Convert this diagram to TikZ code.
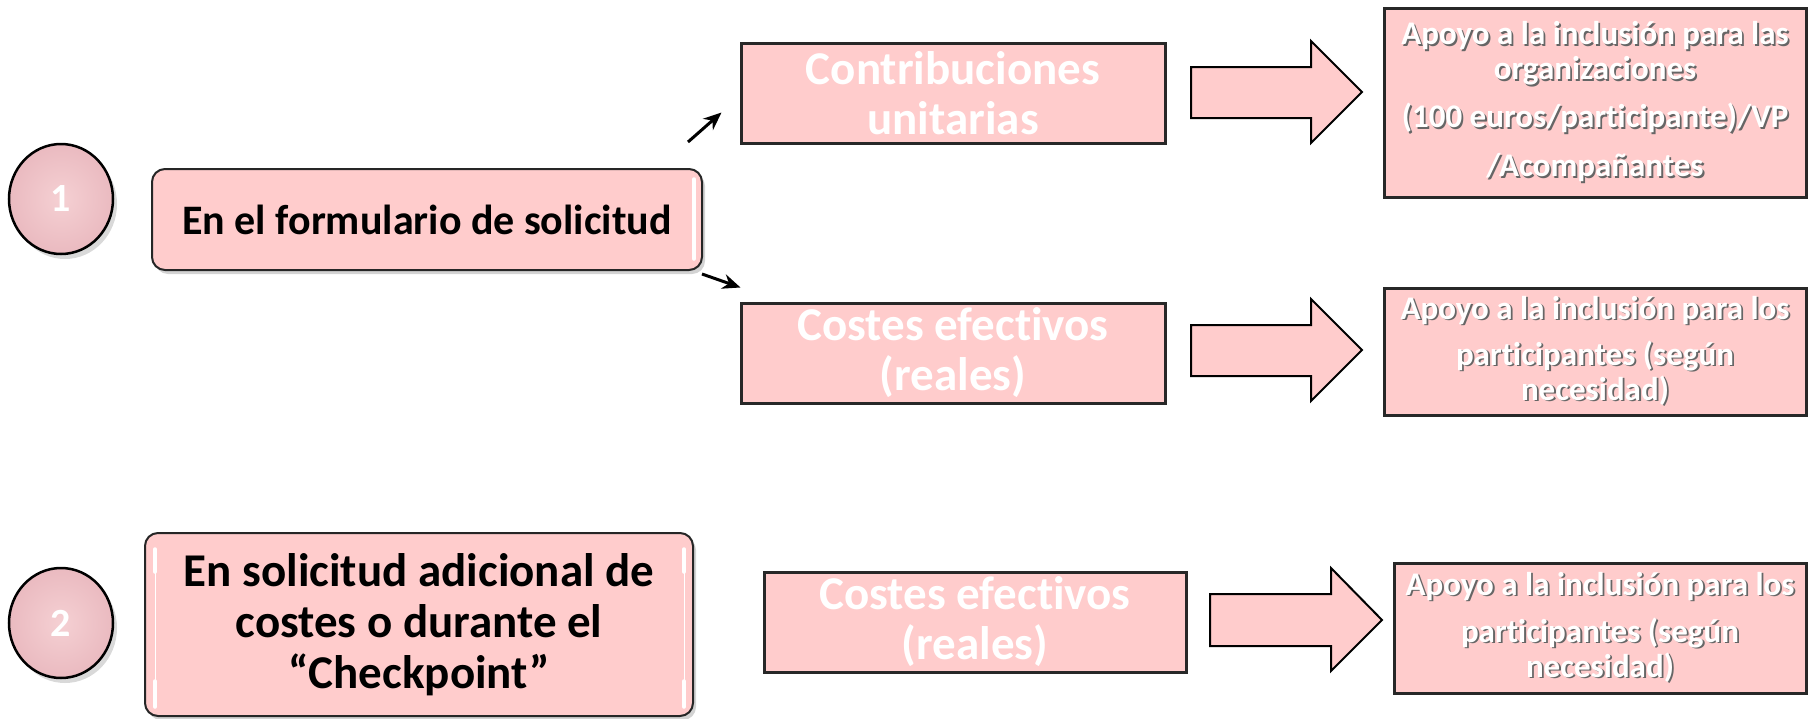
\documentclass[tikz,border=0pt]{standalone}
\usepackage{fontspec}
\setmainfont{Carlito}[Ligatures=NoCommon]
\usetikzlibrary{arrows.meta, shapes.geometric, shadows}
\definecolor{boxpink}{RGB}{255,204,204}
\definecolor{ballin}{RGB}{245,208,211}
\definecolor{ballout}{RGB}{234,186,192}
\definecolor{darkline}{RGB}{40,40,40}
\newcommand{\shd}[1]{\rlap{\kern1.8pt\raisebox{-1.8pt}{\textcolor{black!60}{#1}}}#1}
\tikzset{>=Stealth}

\begin{document}
\begin{tikzpicture}[x=1pt, y=-1pt,
ball/.style={
  ellipse,
  draw=black,
  line width=2.5pt,
  inner color=ballin,
  outer color=ballout,
  minimum width=104pt,
  minimum height=110pt,
  text=white,
  font=\fontsize{40}{44}\selectfont\bfseries,
  drop shadow={shadow xshift=4pt, shadow yshift=-5pt, opacity=.3}
  },
formbox/.style={
  rectangle,
  rounded corners=13pt,
  draw=black!85,
  line width=2pt,
  fill=boxpink,
  align=center,
  inner sep=1pt,
  drop shadow={shadow xshift=3pt, shadow yshift=-4pt, opacity=.35}
  },
catbox/.style={
  rectangle,
  draw=darkline,
  line width=3pt,
  fill=boxpink,
  text=white,
  align=center,
  inner sep=1pt,
  font=\fontsize{47}{50}\selectfont\bfseries
  },
supbox/.style={
  rectangle,
  draw=darkline,
  line width=3pt,
  fill=boxpink,
  text=white,
  align=center,
  inner sep=1pt,
  font=\fontsize{33}{35}\selectfont\bfseries
  },
blockarr/.style={
  draw=black,
  line width=2pt,
  fill=boxpink,
  line join=miter
  },
pointer/.style={
  line width=3pt,
  -{Stealth[length=18pt, width=15pt]}
  },
glint/.style={
  white,
  line width=3.5pt,
  line cap=round
  }
]
\useasboundingbox (0,0) rectangle (1808,718);

%first row
\node[ball] (one) at (61,199) {1};
\node[formbox, minimum width=550pt, minimum height=101pt,
  font=\fontsize{42}{50}\selectfont\bfseries] (form1) at (427,219.5)
  {En el formulario de solicitud};
\draw[glint] ([shift={(-9,11)}]form1.north east) -- ([shift={(-9,-12)}]form1.south east);

\node[catbox, minimum width=424pt, minimum height=100pt] (unit) at (953,93)
  {Contribuciones\\unitarias};
\node[catbox, minimum width=424pt, minimum height=100pt] (real1) at (953,353)
  {Costes efectivos\\(reales)};

\draw[pointer] ([shift={(-15,-26)}]form1.north east) -- ([shift={(-18,-32)}]unit.south west);
\draw[pointer] ([shift={(-1,3)}]form1.south east) -- ([shift={(1,-14)}]real1.north west);

\node[supbox, minimum width=422pt, minimum height=189pt] (orgs) at (1595,102.5)
  {\shd{Apoyo a la inclusión para las}\\\shd{organizaciones}\\[13pt]
   \shd{(100 euros/participante)/VP}\\[14pt]\shd{/Acompañantes}};
\node[supbox, minimum width=422pt, minimum height=127pt] (part1) at (1595,351.5)
  {\shd{Apoyo a la inclusión para los}\\[11pt]\shd{participantes (según}\\
   \shd{necesidad)}};

%the block arrows
\draw[blockarr] (1191,67) -- (1311,67) -- (1311,41) -- (1362,92)
  -- (1311,143) -- (1311,118) -- (1191,118) -- cycle;
\draw[blockarr] (1191,325) -- (1311,325) -- (1311,299) -- (1362,350)
  -- (1311,401) -- (1311,376) -- (1191,376) -- cycle;

%second row
\node[ball] (two) at (61,623) {2};
\node[formbox, minimum width=548pt, minimum height=183pt,
  font=\fontsize{47}{51}\selectfont\bfseries] (form2) at (419,624.5)
  {En solicitud adicional de\\costes o durante el\\“Checkpoint”};
\draw[white, line width=1pt] ([shift={(11,17)}]form2.north west) -- ([shift={(11,-10)}]form2.south west);
\draw[glint] ([shift={(11,17)}]form2.north west) -- ++(0,23);
\draw[glint] ([shift={(11,-10)}]form2.south west) -- ++(0,-26);
\draw[white, line width=1pt] ([shift={(-10,17)}]form2.north east) -- ([shift={(-10,-10)}]form2.south east);
\draw[glint] ([shift={(-10,17)}]form2.north east) -- ++(0,23);
\draw[glint] ([shift={(-10,-10)}]form2.south east) -- ++(0,-26);

\node[catbox, minimum width=422pt, minimum height=100pt] (real2) at (975,622)
  {Costes efectivos\\(reales)};

\draw[blockarr] (1210,594) -- (1331,594) -- (1331,568) -- (1382,620)
  -- (1331,671) -- (1331,646) -- (1210,646) -- cycle;

\node[supbox, minimum width=412pt, minimum height=130pt] (part2) at (1600,628)
  {\shd{Apoyo a la inclusión para los}\\[12pt]\shd{participantes (según}\\
   \shd{necesidad)}};

\end{tikzpicture}
\end{document}
